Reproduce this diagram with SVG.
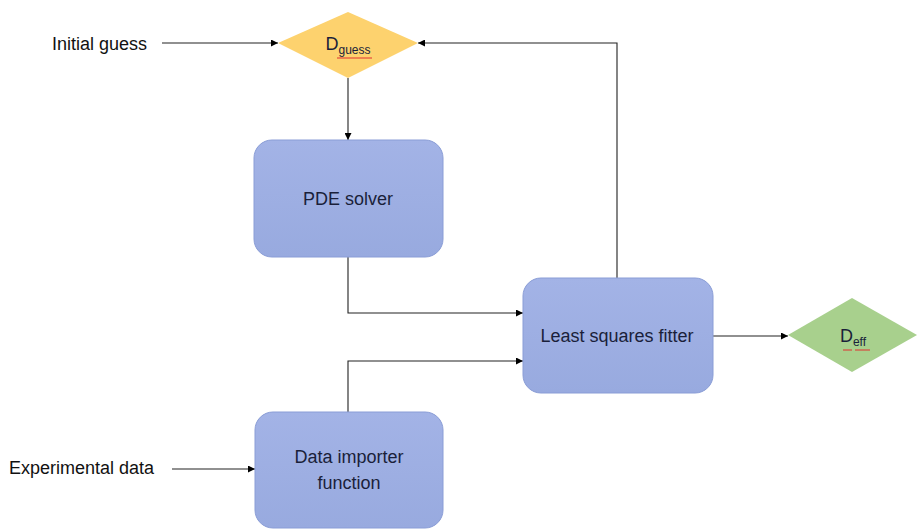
<svg xmlns="http://www.w3.org/2000/svg" width="917" height="529" viewBox="0 0 917 529">
<defs>
<marker id="arr" viewBox="0 0 10 10" refX="10" refY="5" markerWidth="7" markerHeight="7" markerUnits="userSpaceOnUse" orient="auto">
<path d="M0,0 L10,5 L0,10 z" fill="#000"/>
</marker>
<linearGradient id="boxg" x1="0" y1="0" x2="0" y2="1">
<stop offset="0" stop-color="#a3b3e6"/>
<stop offset="1" stop-color="#98aadf"/>
</linearGradient>
</defs>
<style>
.box{fill:url(#boxg);stroke:#8a9dd6;stroke-width:1}
.t{font-family:"Liberation Sans",Arial,sans-serif;font-size:18px;fill:#1a1f3a;text-anchor:middle}
.lbl{font-family:"Liberation Sans",Arial,sans-serif;font-size:18px;fill:#111}
.sub{font-size:12px}
.c{fill:none;stroke:#222;stroke-width:1.1}
.sq{fill:none;stroke:#e03030;stroke-width:1}
</style>
<rect width="917" height="529" fill="#fff"/>
<g id="connectors">
<line class="c" x1="162" y1="43" x2="278" y2="43" marker-end="url(#arr)"/>
<line class="c" x1="348" y1="78" x2="348" y2="140" marker-end="url(#arr)"/>
<polyline class="c" points="348,257 348,313 523,313" marker-end="url(#arr)"/>
<polyline class="c" points="348,412 348,361 523,361" marker-end="url(#arr)"/>
<polyline class="c" points="617,278 617,43 418,43" marker-end="url(#arr)"/>
<line class="c" x1="713" y1="336" x2="788" y2="336" marker-end="url(#arr)"/>
<line class="c" x1="172" y1="469" x2="255" y2="469" marker-end="url(#arr)"/>
</g>
<g id="initial-guess"><text class="lbl" x="52" y="50">Initial guess</text></g>
<g id="experimental-data"><text class="lbl" x="9" y="474">Experimental data</text></g>
<g id="d-guess">
<polygon points="348,12 418,43 348,78 278,43" fill="#fdd26e"/>
<text class="t" x="348" y="50"><tspan>D</tspan><tspan class="sub" dy="4">guess</tspan></text>
<line class="sq" x1="337" y1="58" x2="372" y2="58"/>
</g>
<g id="pde-solver">
<rect class="box" x="254" y="140" width="189" height="117" rx="18"/>
<text class="t" x="348" y="205">PDE solver</text>
</g>
<g id="least-squares-fitter">
<rect class="box" x="523" y="278" width="190" height="115" rx="18"/>
<text class="t" x="617" y="342">Least squares fitter</text>
</g>
<g id="data-importer">
<rect class="box" x="255" y="412" width="188" height="116" rx="18"/>
<text class="t" x="349" y="463">Data importer</text>
<text class="t" x="349" y="489">function</text>
</g>
<g id="d-eff">
<polygon points="852,298 917,335 852,372 788,335" fill="#a8d08d"/>
<text class="t" x="853" y="342"><tspan>D</tspan><tspan class="sub" dy="4">eff</tspan></text>
<line class="sq" x1="843" y1="350" x2="852" y2="350"/>
<line class="sq" x1="855" y1="350" x2="870" y2="350"/>
</g>
</svg>
